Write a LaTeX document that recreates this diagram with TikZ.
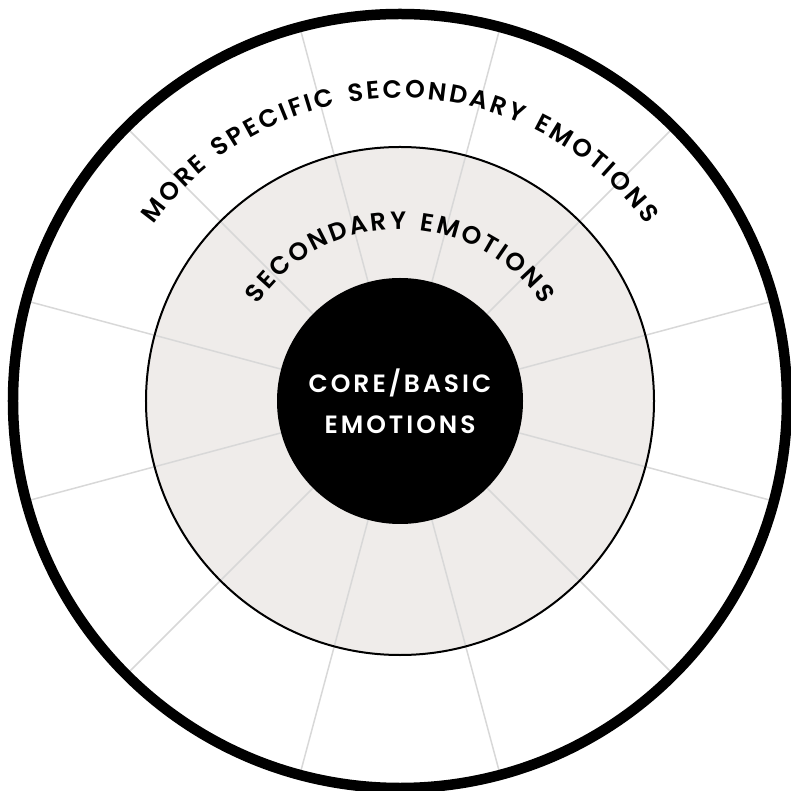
\documentclass[tikz,border=0pt]{standalone}
\usepackage{fontspec}
\usetikzlibrary{decorations.text}
\newfontfamily\wheelfont{Poppins}[UprightFont=* SemiBold,LetterSpace=10]
\definecolor{ringgrey}{RGB}{239,236,234}
\definecolor{spokegrey}{RGB}{216,216,216}
\tikzset{
  spoke/.style={draw=spokegrey,line width=1.5pt},
  ring/.style={draw=black,line width=2pt},
  rim/.style={draw=black,line width=10.5pt},
  corebox/.style={circle,fill=black,minimum size=246pt,inner sep=0pt,
    align=center,text=white,
    font={\wheelfont\addfontfeature{LetterSpace=12}\fontsize{25}{41}\selectfont}},
  arctext/.style={decorate,decoration={text along path,text align=fit to path,
    text={|\wheelfont\fontsize{25}{25}\selectfont|#1}}}
}

\begin{document}
\begin{tikzpicture}[x=1pt,y=1pt]
  \useasboundingbox (-400,-390) rectangle (390,401);
  \fill[ringgrey] (0,0) circle[radius=254];
  % rayons
  \foreach \a in {15,45,...,345}
    \draw[spoke] (\a:123) -- (\a:387);
  \draw[ring] (0,0) circle[radius=254];
  \draw[rim] (0,0) circle[radius=387];
  \node[corebox] (core) at (0,0) {CORE/BASIC\\EMOTIONS};
  % textes sur les arcs
  \path[arctext={MORE SPECIFIC SECONDARY EMOTIONS}] (144.4:303) arc[start angle=144.4,end angle=35.6,radius=303];
  \path[arctext={SECONDARY EMOTIONS}] (145.9:172) arc[start angle=145.9,end angle=34.1,radius=172];
\end{tikzpicture}
\end{document}
